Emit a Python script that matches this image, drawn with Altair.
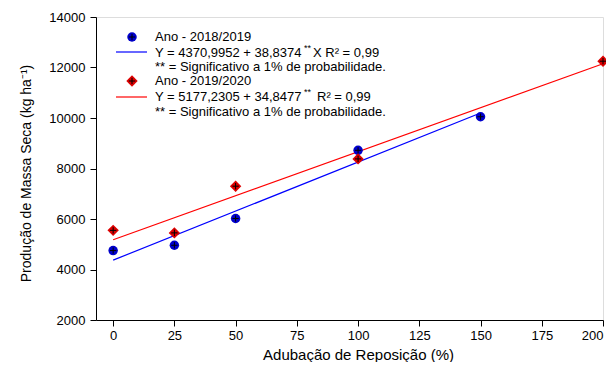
import altair as alt
import pandas as pd

# ---- data ----
doses = [0, 25, 50, 100, 150]
prod_2018 = [4750, 4960, 6020, 8720, 10050]
doses_2019 = [0, 25, 50, 100, 200]
prod_2019 = [5550, 5450, 7300, 8380, 12250]

fit_x_2018 = [0, 150]
fit_y_2018 = [4371, 10196]
fit_x_2019 = [0, 200]
fit_y_2019 = [5177, 12147]

x_ticks = [0, 25, 50, 75, 100, 125, 150, 175, 200]
y_ticks = [2000, 4000, 6000, 8000, 10000, 12000, 14000]

FONT = "Liberation Sans"
BLUE = "#0000ff"
RED = "#ff0000"

pts = pd.concat([
    pd.DataFrame({"x": doses, "y": prod_2018, "s": "2018/2019"}),
    pd.DataFrame({"x": doses_2019, "y": prod_2019, "s": "2019/2020"}),
])
fits = pd.concat([
    pd.DataFrame({"x": fit_x_2018, "y": fit_y_2018, "s": "2018/2019"}),
    pd.DataFrame({"x": fit_x_2019, "y": fit_y_2019, "s": "2019/2020"}),
])

xs = alt.Scale(domain=[-7, 200], nice=False, zero=False)
ys = alt.Scale(domain=[2000, 14000], nice=False, zero=False)

xenc = alt.X("x:Q", scale=xs, axis=alt.Axis(
    values=x_ticks, title="Adubação de Reposição (%)", grid=False, format="d",
    domainColor="black", tickColor="black", tickSize=6, labelPadding=3,
    labelFont=FONT, labelFontSize=13, labelColor="black",
    titleFont=FONT, titleFontSize=15, titleFontWeight="normal", titleColor="black",
    titleX=262, titleY=27, titleBaseline="top", titleAnchor="middle", titleAlign="center"))
yenc = alt.Y("y:Q", scale=ys, axis=alt.Axis(
    values=y_ticks, title="Produção de Massa Seca (kg ha⁻¹)", grid=False, format="d",
    domainColor="black", tickColor="black", tickSize=6, labelPadding=5,
    labelFont=FONT, labelFontSize=13, labelColor="black",
    titleFont=FONT, titleFontSize=14, titleFontWeight="normal", titleColor="black",
    titleX=-63, titleY=156, titleAnchor="middle", titleAlign="center"))

color = alt.Color("s:N", scale=alt.Scale(domain=["2018/2019", "2019/2020"], range=[BLUE, RED]), legend=None)

lines = alt.Chart(fits).mark_line(strokeWidth=1.2).encode(
    x=xenc, y=yenc, color=color, detail="s:N")

blue_pts = alt.Chart(pts[pts.s == "2018/2019"]).mark_point(
    shape="circle", filled=True, size=90, color="#0000cc", opacity=1).encode(x="x:Q", y="y:Q")
red_pts = alt.Chart(pts[pts.s == "2019/2020"]).mark_point(
    shape="diamond", filled=True, size=130, color="#dd0000", opacity=1).encode(x="x:Q", y="y:Q")
crosses = alt.Chart(pts).mark_point(
    shape="M-1,0H1M0,-1V1", filled=False, size=40, color="black", strokeWidth=1, opacity=1
).encode(x="x:Q", y="y:Q")

one = alt.Data(values=[{"a": 1}])


def txt(s, x, y, size=13):
    return alt.Chart(one).mark_text(
        text=s, align="left", baseline="middle", font=FONT, fontSize=size, color="black"
    ).encode(x=alt.value(x), y=alt.value(y))


def sym(shape, fill, x, y, size):
    a = alt.Chart(one).mark_point(shape=shape, filled=True, size=size, color=fill, opacity=1).encode(
        x=alt.value(x), y=alt.value(y))
    b = alt.Chart(one).mark_point(shape="M-1,0H1M0,-1V1", filled=False, size=40, color="black",
                                  strokeWidth=1, opacity=1).encode(x=alt.value(x), y=alt.value(y))
    return a + b


def seg(col, x1, x2, y):
    return alt.Chart(one).mark_rule(color=col, strokeWidth=1.2).encode(
        x=alt.value(x1), x2=alt.value(x2), y=alt.value(y))


legend = (
    sym("circle", "#0000cc", 36, 20, 90)
    + txt("Ano - 2018/2019", 59, 20)
    + seg(BLUE, 20, 51, 35)
    + txt("Y = 4370,9952 + 38,8374", 59, 36)
    + txt("**", 208, 31, 9)
    + txt("X  R² = 0,99", 217, 36)
    + txt("** = Significativo a 1% de probabilidade.", 59, 50)
    + sym("diamond", "#dd0000", 36, 64, 130)
    + txt("Ano - 2019/2020", 59, 64)
    + seg(RED, 20, 51, 80)
    + txt("Y = 5177,2305 + 34,8477", 59, 80)
    + txt("**", 208, 75, 9)
    + txt("R² = 0,99", 221, 80)
    + txt("** = Significativo a 1% de probabilidade.", 59, 95)
)

chart = (lines + blue_pts + red_pts + crosses + legend).properties(
    width=507, height=303,
    autosize=alt.AutoSizeParams(type="none"),
    padding={"left": 88, "top": 9, "right": 3, "bottom": 42},
).configure_view(stroke=None).configure(background="white")

chart.save("out.html", embed_options={"renderer": "svg", "actions": False})
